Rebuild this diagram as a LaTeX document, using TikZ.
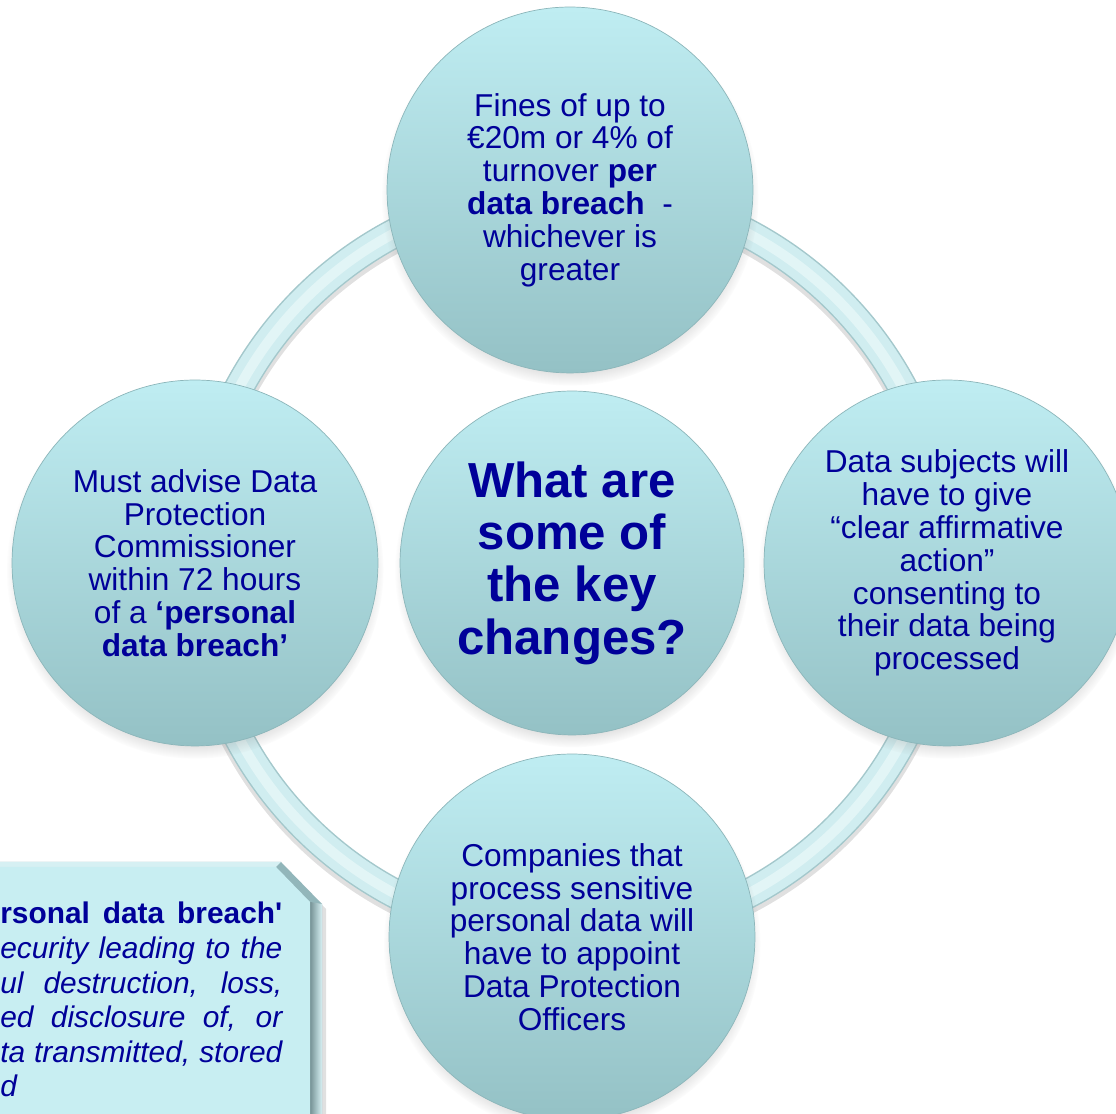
\documentclass[tikz,border=0pt]{standalone}
\usepackage{fontspec}
\setmainfont{Liberation Sans}
\usetikzlibrary{shadows,backgrounds,fadings}

\definecolor{txtblue}{RGB}{0,0,153}
\definecolor{circtop}{RGB}{191,237,242}
\definecolor{circbot}{RGB}{148,193,197}
\definecolor{circedge}{RGB}{140,182,186}
\definecolor{ringfill}{RGB}{208,237,240}
\definecolor{ringedge}{RGB}{164,200,204}
\definecolor{ringlight}{RGB}{226,245,246}
\definecolor{boxfill}{RGB}{200,238,242}
\definecolor{boxdark}{RGB}{146,182,186}
\definecolor{boxlight}{RGB}{214,240,243}

\begin{document}
\begin{tikzpicture}[x=0.02cm,y=0.02cm,
	bubble/.style={circle, minimum size=7.32cm, inner sep=0pt, top color=circtop, bottom color=circbot,
		draw=circedge, line width=0.4pt, text=txtblue, align=center, font=\fontsize{18}{18.7}\selectfont,
		circular drop shadow={shadow scale=1.03, shadow xshift=0pt, shadow yshift=-4pt, opacity=0.45}},
	hub/.style={bubble, minimum size=6.88cm, font=\fontsize{28}{29.8}\selectfont\bfseries},
	ring/.style={line width=0.54cm, draw=ringfill,
		preaction={draw=black, opacity=0.12, line width=0.66cm, transform canvas={yshift=-2pt}},
		preaction={draw=ringedge, line width=0.6cm},
		postaction={draw=ringlight, line width=0.2cm}},
	deftext/.style={anchor=base west, inner sep=0pt, text=txtblue, font=\fontsize{17}{20}\selectfont}]
		\useasboundingbox (0,0) rectangle (1116,1114);

		\draw (570,924) node [bubble] (fines) {Fines of up to\\€20m or 4\% of\\turnover \textbf{per}\\\textbf{data breach}\ \ -\\whichever is\\greater};
		\draw (195,551) node [bubble] (advise) {Must advise Data\\Protection\\Commissioner\\within 72 hours\\of a \textbf{‘personal}\\\textbf{data breach’}};
		\draw (947,551) node [bubble] (consent) {Data subjects will\\have to give\\“clear affirmative\\action”\\consenting to\\their data being\\processed};
		\draw (572,177) node [bubble] (officers) {Companies that\\process sensitive\\personal data will\\have to appoint\\Data Protection\\Officers};
		\draw (572,551) node [hub] (question) {What are\\some of\\the key\\changes?};

		\begin{scope}[on background layer]
			\fill[white] (0,0) rectangle (1116,1114);
			\draw[ring]
				(fines.center) to [bend right=45] (advise.center)
				to [bend right=45] (officers.center)
				to [bend right=45] (consent.center)
				to [bend right=45] (fines.center);
		\end{scope}

		\fill[black, opacity=0.12] (-10,248) -- (283,248) -- (326,205) -- (326,-10) -- (-10,-10) -- cycle;
		\fill[boxdark] (-10,252) -- (281,252) -- (322,210) -- (322,-10) -- (-10,-10) -- cycle;
		\fill[boxlight] (-10,252) -- (281,252) -- (276,247) -- (-10,247) -- cycle;
		\shade[left color=boxdark!80!black, right color=boxlight] (310,-10) -- (310,212) -- (322,210) -- (322,-10) -- cycle;
		\fill[boxfill] (-10,247) -- (276,247) -- (310,212) -- (310,-10) -- (-10,-10) -- cycle;

		\foreach \line [count=\i] in {{\bfseries rsonal data breach\textquotesingle}, {\itshape ecurity leading to the},
			{\itshape ul destruction, loss,}, {\itshape ed disclosure of, or}, {\itshape ta transmitted, stored}}
			\node [deftext] (def\i) at (0,224.6-34.6*\i) {\makebox[5.64cm][s]{\line}};
		\node [deftext] (def6) at (0,17) {\itshape d};
	\end{tikzpicture}
\end{document}
